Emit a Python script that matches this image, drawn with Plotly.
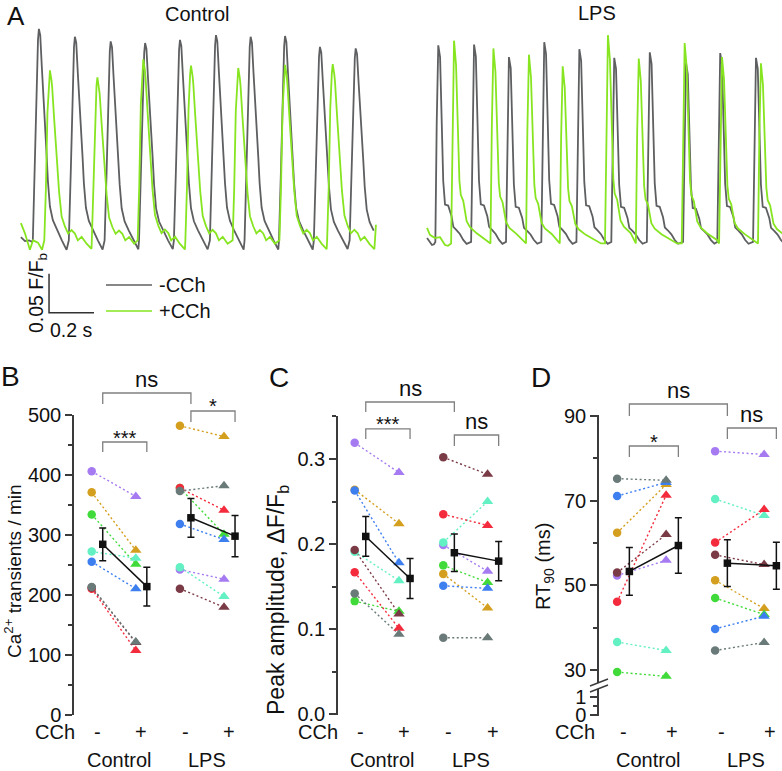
import numpy as np
import plotly.graph_objects as go

W, H = 782, 771
def PX(x): return x / W
def PY(y): return 1 - y / H

FONT = "Liberation Sans, Arial, Helvetica, sans-serif"
INK = "#111111"
AXC = "#3b3b3b"
BRC = "#808080"
TR_GRAY = "#5e5f61"
TR_GREEN = "#86e520"

# ================= Panel A: Ca2+ traces (time in s, signal in F/Fb) =================
# Control, -CCh
ctrl_noc_peak_t = [0.084, 0.244, 0.403, 0.556, 0.711, 0.871, 1.025, 1.178, 1.333, 1.492]
ctrl_noc_peak_v = [1.277, 1.267, 1.261, 1.259, 1.263, 1.269, 1.267, 1.268, 1.254, 1.252]
ctrl_noc_base = 1.006
ctrl_noc_lead_t = [0.004, 0.022, 0.040, 0.053]
ctrl_noc_lead_v = [1.010, 1.005, 1.006, 1.004]
# Control, +CCh
ctrl_cch_peak_t = [0.133, 0.344, 0.548, 0.760, 0.970, 1.178, 1.390]
ctrl_cch_peak_v = [1.224, 1.215, 1.238, 1.230, 1.227, 1.231, 1.232]
ctrl_cch_base = 1.006
ctrl_cch_lead_t = [0.004, 0.022, 0.044, 0.058, 0.080, 0.098]
ctrl_cch_lead_v = [1.028, 1.015, 0.994, 1.006, 1.003, 0.994]
ctrl_cch_tail_t = [1.582]
ctrl_cch_tail_v = [1.026]
# LPS, -CCh
lps_noc_peak_t = [0.059, 0.218, 0.373, 0.530, 0.686, 0.841, 0.999, 1.160, 1.312, 1.471]
lps_noc_peak_v = [1.256, 1.257, 1.241, 1.260, 1.251, 1.240, 1.247, 1.233, 1.246, 1.240]
lps_noc_base = 1.004
lps_noc_lead_t = [0.009, 0.022, 0.031, 0.040]
lps_noc_lead_v = [1.009, 1.003, 1.000, 1.001]
# LPS, +CCh
lps_cch_peak_t = [0.129, 0.304, 0.462, 0.612, 0.813, 0.950, 1.154, 1.320, 1.493]
lps_cch_peak_v = [1.262, 1.252, 1.244, 1.229, 1.269, 1.239, 1.259, 1.241, 1.233]
lps_cch_base = 1.002
lps_cch_lead_t = [0.009, 0.022, 0.044, 0.067, 0.089, 0.102]
lps_cch_lead_v = [1.022, 1.013, 1.009, 1.010, 1.000, 0.999]

# beat waveforms (ms from peak, fraction of peak amplitude)
ctrl_noc_wave_ms = [-27, -18, -9, -4, 0, 6, 13, 20, 27, 34, 40, 49, 62, 80, 102, 123]
ctrl_noc_wave_f = [0, 0.35, 0.8, 0.95, 1, 0.97, 0.82, 0.66, 0.52, 0.41, 0.28, 0.16, 0.095, 0.05, 0.0, -0.045]
ctrl_cch_wave_ms = [-25, -18, -11, -4, 0, 7, 10, 19, 30, 41, 52, 67, 81, 96, 111, 124, 141, 163, 185]
ctrl_cch_wave_f = [0, 0.3, 0.75, 0.95, 1, 0.94, 0.9, 0.71, 0.47, 0.28, 0.14, 0.08, 0.04, 0.06, 0.04, 0.0, 0.02, -0.02, -0.05]
lps_noc_wave_ms = [-13, -7, -2, 0, 8, 15, 22, 30, 44, 59, 67, 81, 96, 111, 126]
lps_noc_wave_f = [0, 0.6, 0.95, 1, 0.94, 0.6, 0.31, 0.19, 0.185, 0.13, 0.076, 0.06, 0.04, 0.01, -0.01]
lps_cch_wave_ms = [-13, -7, -2, 0, 9, 16, 24, 30, 41, 56, 71, 101, 145, 170]
lps_cch_wave_f = [0, 0.6, 0.95, 1, 0.88, 0.59, 0.31, 0.24, 0.21, 0.11, 0.08, 0.05, 0.016, 0.0]

scale_dt = 0.2     # s
scale_dv = 0.05    # F/Fb

# ================= Panels B-D: per-cell values =================
# cell order: purple, gold, green, cyan, blue, red, brown, gray
cell_colors = ["#a67bf2", "#d49f1e", "#40db3a", "#63f0c3", "#3e7ff0", "#f42b3d", "#7b3b46", "#6a7a78"]

rate_ctrl_m = [406, 371, 334, 272, 255, 210, 212, 213]
rate_ctrl_p = [364, 274, 251, 261, 210, 107, 120, 121]
rate_lps_m = [242, 482, 378, 246, 318, 378, 210, 373]
rate_lps_p = [226, 464, 301, 197, 292, 341, 179, 382]

amp_ctrl_m = [0.319, 0.264, 0.133, 0.191, 0.263, 0.167, 0.193, 0.142]
amp_ctrl_p = [0.284, 0.224, 0.121, 0.157, 0.178, 0.101, 0.118, 0.094]
amp_lps_m = [0.199, 0.165, 0.175, 0.202, 0.151, 0.235, 0.302, 0.090]
amp_lps_p = [0.168, 0.125, 0.155, 0.250, 0.148, 0.222, 0.282, 0.090]

rt_ctrl_m = [52.3, 62.4, 29.5, 36.6, 71.1, 46.1, 53.0, 75.2]
rt_ctrl_p = [55.9, 73.8, 28.5, 34.6, 74.3, 71.3, 62.0, 74.8]
rt_lps_m = [81.7, 51.2, 47.0, 70.4, 39.7, 60.1, 57.2, 34.6]
rt_lps_p = [80.9, 44.5, 43.1, 66.5, 42.7, 67.9, 54.9, 36.5]

group_pos = [0, 1, 2, 3]          # Control -, Control +, LPS -, LPS +
cch_labels = ["-", "+", "-", "+"]
group_names = ["Control", "LPS"]

fig = go.Figure()
annotations = []
shapes = []


def build_wave(lead_t, lead_v, peak_t, peak_v, base, w_ms, w_f, t_end, tail_t=(), tail_v=()):
    ts, vs = list(lead_t), list(lead_v)
    n = len(peak_t)
    for i, (tp, vp) in enumerate(zip(peak_t, peak_v)):
        nxt = peak_t[i + 1] + w_ms[0] / 1000.0 if i < n - 1 else t_end
        for off, f in zip(w_ms, w_f):
            t = tp + off / 1000.0
            if t < nxt - 1e-9:
                ts.append(t)
                vs.append(base + f * (vp - base))
    ts += list(tail_t)
    vs += list(tail_v)
    return ts, vs


traces_A = [
    (ctrl_noc_lead_t, ctrl_noc_lead_v, ctrl_noc_peak_t, ctrl_noc_peak_v, ctrl_noc_base,
     ctrl_noc_wave_ms, ctrl_noc_wave_f, 1.578, (), (), TR_GRAY, "x", "y"),
    (ctrl_cch_lead_t, ctrl_cch_lead_v, ctrl_cch_peak_t, ctrl_cch_peak_v, ctrl_cch_base,
     ctrl_cch_wave_ms, ctrl_cch_wave_f, 1.580, ctrl_cch_tail_t, ctrl_cch_tail_v, TR_GREEN, "x", "y"),
    (lps_noc_lead_t, lps_noc_lead_v, lps_noc_peak_t, lps_noc_peak_v, lps_noc_base,
     lps_noc_wave_ms, lps_noc_wave_f, 1.62, (), (), TR_GRAY, "x2", "y2"),
    (lps_cch_lead_t, lps_cch_lead_v, lps_cch_peak_t, lps_cch_peak_v, lps_cch_base,
     lps_cch_wave_ms, lps_cch_wave_f, 1.62, (), (), TR_GREEN, "x2", "y2"),
]
for order in (0, 2, 1, 3):
    lt, lv, pt, pv, b, wm, wf, te, tt, tv, col, xa, ya = traces_A[order]
    ts, vs = build_wave(lt, lv, pt, pv, b, wm, wf, te, tt, tv)
    fig.add_trace(go.Scatter(x=ts, y=vs, mode="lines", line=dict(color=col, width=1.8),
                             xaxis=xa, yaxis=ya, hoverinfo="skip"))

# scale bar (data units of the Control trace axes)
sb_t0, sb_v0 = 0.129, 0.913
fig.add_trace(go.Scatter(x=[sb_t0, sb_t0, sb_t0 + scale_dt], y=[sb_v0 + scale_dv, sb_v0, sb_v0],
                         mode="lines", line=dict(color="#333333", width=1.5), xaxis="x", yaxis="y",
                         hoverinfo="skip"))

# ---------- dot panels ----------
OFF_CELL = -0.12
OFF_MEAN = 0.13


def add_dot_panel(xa, ya, cm, cp, lm, lp):
    groups = [(group_pos[0], cm, group_pos[1], cp), (group_pos[2], lm, group_pos[3], lp)]
    for xm, vm, xp, vp in groups:
        for i in range(len(vm)):
            fig.add_trace(go.Scatter(x=[xm + OFF_CELL, xp + OFF_CELL], y=[vm[i], vp[i]], mode="lines",
                                     line=dict(color=cell_colors[i], width=1.4, dash="2px,2.5px"),
                                     xaxis=xa, yaxis=ya, hoverinfo="skip"))
    for xm, vm, xp, vp in groups:
        fig.add_trace(go.Scatter(x=[xm + OFF_CELL] * len(vm), y=vm, mode="markers",
                                 marker=dict(symbol="circle", size=8.5, color=cell_colors, line=dict(width=0)),
                                 xaxis=xa, yaxis=ya, cliponaxis=False, hoverinfo="skip"))
        fig.add_trace(go.Scatter(x=[xp + OFF_CELL] * len(vp), y=vp, mode="markers",
                                 marker=dict(symbol="triangle-up", size=10, color=cell_colors, line=dict(width=0)),
                                 xaxis=xa, yaxis=ya, cliponaxis=False, hoverinfo="skip"))
    for xm, vm, xp, vp in groups:
        m = [float(np.mean(vm)), float(np.mean(vp))]
        s = [float(np.std(vm, ddof=1) / np.sqrt(len(vm))), float(np.std(vp, ddof=1) / np.sqrt(len(vp)))]
        fig.add_trace(go.Scatter(x=[xm + OFF_MEAN, xp + OFF_MEAN], y=m, mode="lines+markers",
                                 line=dict(color=INK, width=1.5),
                                 marker=dict(symbol="square", size=7.5, color=INK),
                                 error_y=dict(type="data", array=s, color=INK, thickness=1.5, width=3.5),
                                 xaxis=xa, yaxis=ya, cliponaxis=False, hoverinfo="skip"))


def bracket(xa, ya, x0, x1, ytop, ybot, label):
    fig.add_trace(go.Scatter(x=[x0, x0, x1, x1], y=[ybot, ytop, ytop, ybot], mode="lines",
                             line=dict(color=BRC, width=1.3), xaxis=xa, yaxis=ya, hoverinfo="skip"))
    star = label.startswith("*")
    annotations.append(dict(x=(x0 + x1) / 2, y=ytop, xref=xa, yref=ya, text=label, showarrow=False,
                            xanchor="center", yanchor="bottom", yshift=-8.5 if star else -1,
                            font=dict(size=20 if star else 22, color=INK, family=FONT)))


add_dot_panel("x3", "y3", rate_ctrl_m, rate_ctrl_p, rate_lps_m, rate_lps_p)
add_dot_panel("x5", "y5", amp_ctrl_m, amp_ctrl_p, amp_lps_m, amp_lps_p)
add_dot_panel("x7", "y7", rt_ctrl_m, rt_ctrl_p, rt_lps_m, rt_lps_p)

mC, pC, mL, pL = [g + OFF_MEAN for g in group_pos]
bracket("x3", "y3", mC, mL, 536.7, 518.4, "ns")
bracket("x3", "y3", mC, pC, 454.9, 438.2, "***")
bracket("x3", "y3", mL, pL, 506.7, 488.3, "*")
bracket("x5", "y5", mC, mL, 0.367, 0.3552, "ns")
bracket("x5", "y5", mC, pC, 0.3353, 0.3235, "***")
bracket("x5", "y5", mL, pL, 0.3282, 0.3153, "ns")
bracket("x7", "y7", mC, mL, 92.83, 90.0, "ns")
bracket("x7", "y7", mC, pC, 82.91, 80.31, "*")
bracket("x7", "y7", mL, pL, 87.17, 84.57, "ns")

# placeholder traces so that axis-only subplots are drawn
for k in (4, 6, 8, 9):
    fig.add_trace(go.Scatter(x=[None], y=[None], xaxis=f"x{k}", yaxis=f"y{k}", hoverinfo="skip"))

# ---------- axes geometry ----------
layout_axes = {}


def xdom(tick0, step, lo_px, hi_px):
    return [PX(lo_px), PX(hi_px)], [(lo_px - tick0) / step, (hi_px - tick0) / step]


def ydom(vpx, lo, hi):
    return [PY(vpx(lo)), PY(vpx(hi))], [lo, hi]


def hidden_x(dom, rng, anchor):
    return dict(domain=dom, range=rng, visible=False, anchor=anchor, fixedrange=True, automargin=False)


def hidden_y(dom, rng, anchor):
    return dict(domain=dom, range=rng, visible=False, anchor=anchor, fixedrange=True, automargin=False)


def shown_y(dom, rng, anchor, tv, tt, minor_vals):
    return dict(domain=dom, range=rng, anchor=anchor, showline=True, linecolor=AXC, linewidth=1.5,
                ticks="outside", ticklen=7, tickwidth=1.5, tickcolor=AXC,
                tickmode="array", tickvals=tv, ticktext=tt,
                tickfont=dict(size=20, color=INK, family=FONT),
                minor=dict(tickmode="array", tickvals=minor_vals, ticks="outside", ticklen=4,
                           tickwidth=1.5, tickcolor=AXC, showgrid=False),
                showgrid=False, zeroline=False, fixedrange=True, automargin=False)


# A axes
layout_axes["xaxis"] = hidden_x([PX(20), PX(378)], [0, 358 / 225], "y")
layout_axes["yaxis"] = hidden_y([PY(335), PY(20)], [1 + (245 - 335) / 780, 1 + (245 - 20) / 780], "x")
layout_axes["xaxis2"] = hidden_x([PX(425), PX(782)], [0, 357 / 225], "y2")
layout_axes["yaxis2"] = hidden_y([PY(255), PY(20)], [1 + (245 - 255) / 780, 1 + (245 - 20) / 780], "x2")

# B
vB = lambda v: 714.5 - 0.599 * v
dxB, rxB = xdom(97, 44.1, 74, 245)
d, r = ydom(vB, -1, (714.5 - 378) / 0.599)
layout_axes["xaxis3"] = hidden_x(dxB, rxB, "y3")
layout_axes["yaxis3"] = hidden_y(d, r, "x3")
d, r = ydom(vB, -0.8, 500.8)
layout_axes["xaxis4"] = hidden_x(dxB, rxB, "y4")
layout_axes["yaxis4"] = shown_y(d, r, "x4", [0, 100, 200, 300, 400, 500],
                                ["0", "100", "200", "300", "400", "500"], [50, 150, 250, 350, 450])
# C
vC = lambda v: 714.3 - 851 * v
dxC, rxC = xdom(360, 44.3, 338, 518)
d, r = ydom(vC, -0.001, (714.3 - 383) / 851)
layout_axes["xaxis5"] = hidden_x(dxC, rxC, "y5")
layout_axes["yaxis5"] = hidden_y(d, r, "x5")
d, r = ydom(vC, -0.0008, 0.3508)
layout_axes["xaxis6"] = hidden_x(dxC, rxC, "y6")
layout_axes["yaxis6"] = shown_y(d, r, "x6", [0, 0.1, 0.2, 0.3], ["0.0", "0.1", "0.2", "0.3"],
                                [0.05, 0.15, 0.25, 0.35])
# D
vD = lambda v: 416 + (90 - v) * 4.233
vDl = lambda v: 715 - 18 * v
dxD, rxD = xdom(623, 49, 599, 782)
d, r = ydom(vD, 90 - (683 - 416) / 4.233, 90 + (416 - 380) / 4.233)
layout_axes["xaxis7"] = hidden_x(dxD, rxD, "y7")
layout_axes["yaxis7"] = hidden_y(d, r, "x7")
d, r = ydom(vD, 90 - (683 - 416) / 4.233, 90.15)
layout_axes["xaxis8"] = hidden_x(dxD, rxD, "y8")
layout_axes["yaxis8"] = shown_y(d, r, "x8", [30, 50, 70, 90], ["30", "50", "70", "90"], [40, 60, 80])
d, r = ydom(vDl, -0.04, (715 - 689) / 18)
layout_axes["xaxis9"] = hidden_x(dxD, rxD, "y9")
layout_axes["yaxis9"] = shown_y(d, r, "x9", [0, 1], ["0", "1"], [0.5])

# axis break marks on D
for y0 in (686, 692):
    shapes.append(dict(type="line", xref="paper", yref="paper", x0=PX(590), y0=PY(y0),
                       x1=PX(608), y1=PY(y0 - 7), line=dict(color=AXC, width=1.4)))

# legend of panel A
shapes.append(dict(type="line", xref="paper", yref="paper", x0=PX(106), x1=PX(152), y0=PY(285), y1=PY(285),
                   line=dict(color=TR_GRAY, width=1.7)))
shapes.append(dict(type="line", xref="paper", yref="paper", x0=PX(106), x1=PX(152), y0=PY(311), y1=PY(311),
                   line=dict(color=TR_GREEN, width=1.7)))


def ptext(x, y, text, size=20, xanchor="center", angle=0, yanchor="middle"):
    annotations.append(dict(x=PX(x), y=PY(y), xref="paper", yref="paper", text=text, showarrow=False,
                            xanchor=xanchor, yanchor=yanchor, textangle=angle,
                            font=dict(size=size, color=INK, family=FONT)))


ptext(157, 285, "-CCh", xanchor="left")
ptext(157, 311, "+CCh", xanchor="left")
ptext(37, 293, "0.05 F/F<sub>b</sub>", size=19.5, angle=-90)
ptext(71, 330, "0.2 s", size=19.5)
ptext(197, 14, "Control")
ptext(597, 13, "LPS")

# panel letters
ptext(16, 16, "A", size=26)
ptext(10, 376, "B", size=28)
ptext(279, 377, "C", size=28)
ptext(541, 377, "D", size=28)

# axis titles
ptext(13, 571, "Ca<sup>2+</sup> transients / min", size=19, angle=-90)
ptext(277, 600, "Peak amplitude, \u0394F/F<sub>b</sub>", size=23, angle=-90)
ptext(544, 567, "RT<sub>90</sub> (ms)", size=20, angle=-90)

# CCh row and group labels
for xa, cch_right in (("x3", 77), ("x5", 340), ("x7", 597)):
    ptext(cch_right, 732, "CCh", xanchor="right")
    for gp, lab in zip(group_pos, cch_labels):
        annotations.append(dict(x=gp, y=PY(732), xref=xa, yref="paper", text=lab, showarrow=False,
                                xanchor="center", yanchor="middle",
                                font=dict(size=20, color=INK, family=FONT)))
    for gx, name in zip((0.5, 2.5), group_names):
        annotations.append(dict(x=gx, y=PY(759.5), xref=xa, yref="paper", text=name, showarrow=False,
                                xanchor="center", yanchor="middle",
                                font=dict(size=20, color=INK, family=FONT)))

fig.update_layout(
    width=W, height=H, margin=dict(l=0, r=0, t=0, b=0, pad=0, autoexpand=False),
    paper_bgcolor="white", plot_bgcolor="rgba(0,0,0,0)",
    showlegend=False, font=dict(family=FONT, color=INK, size=20),
    annotations=annotations, shapes=shapes, **layout_axes,
)
fig.write_html("out.html", config={"displayModeBar": False},
               post_script="document.body.style.margin='0';document.body.style.overflow='hidden';")
